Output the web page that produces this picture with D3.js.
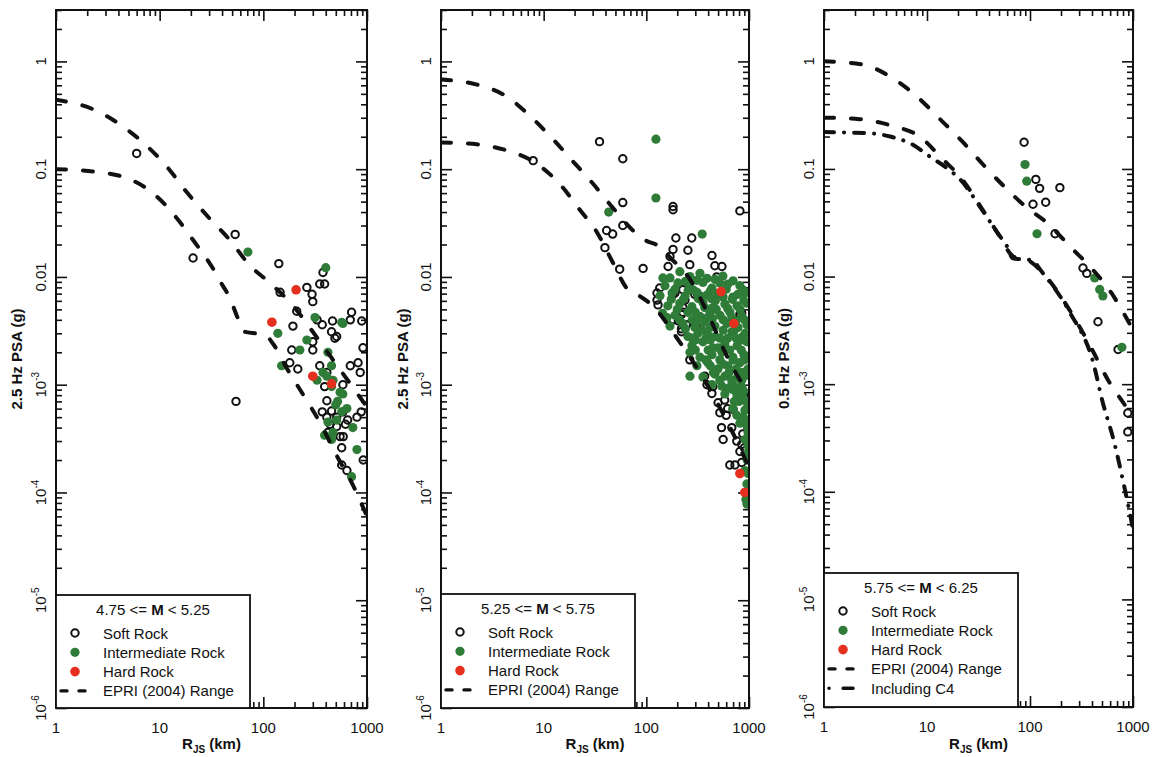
<!DOCTYPE html>
<html>
<head>
<meta charset="utf-8">
<script src="https://cdn.jsdelivr.net/npm/d3@7"></script>
<style>
body { margin: 0; background: #fff; }
text { font-family: "Liberation Sans", Arial, sans-serif; fill: #111; }
</style>
</head>
<body>
<script>
// ---- data (R_JS in km, PSA in g) ----
var xTicks = [1, 10, 100, 1000];
var xTickLabels = ["1", "10", "100", "1000"];
var yTicks = [1e-6, 1e-5, 1e-4, 1e-3, 0.01, 0.1, 1];
var yTickBase = ["10", "10", "10", "10", "0.01", "0.1", "1"];
var yTickExp = ["-6", "-5", "-4", "-3", "", "", ""];

var yTitles = ["2.5 Hz PSA (g)", "2.5 Hz PSA (g)", "0.5 Hz PSA (g)"];
var magLow = ["4.75", "5.25", "5.75"];
var magHigh = ["5.25", "5.75", "6.25"];

// panel 1 : 4.75 <= M < 5.25
var p1Soft = [[6.0,0.14],[53.5,0.0248],[21,0.015],[141,0.0133],[145,0.0072],[263,0.008],[295,0.0069],[300,0.0059],
  [350,0.0086],[390,0.0086],[376,0.011],[193,0.0035],[210,0.0048],[300,0.0025],[300,0.0021],[370,0.0036],[465,0.0039],
  [455,0.0031],[490,0.0027],[710,0.0047],[690,0.004],[890,0.0039],[188,0.0021],[180,0.0016],[215,0.0014],[690,0.0015],
  [820,0.0016],[860,0.0013],[330,0.004],[510,0.0028],[350,0.0015],[410,0.0013],[915,0.0022],[390,0.00096],[585,0.001],
  [410,0.00071],[370,0.00056],[410,0.0005],[455,0.00057],[510,0.0005],[585,0.00056],[650,0.00047],[800,0.0005],
  [880,0.00056],[440,0.00043],[510,0.00041],[620,0.00043],[420,0.00036],[550,0.00033],[590,0.00033],[570,0.00026],
  [570,0.00018],[640,0.00016],[920,0.0002],[54.5,0.0007]];
var p1Inter = [[71,0.017],[400,0.0122],[138,0.003],[315,0.0042],[585,0.0037],[263,0.0026],[225,0.0021],[420,0.002],
  [150,0.0015],[376,0.0013],[410,0.0012],[330,0.0011],[455,0.00096],[550,0.00085],[585,0.00082],[520,0.0007],
  [570,0.00056],[510,0.00047],[470,0.00036],[390,0.00034],[455,0.00031],[730,0.0004],[800,0.00025],[710,0.00014],
  [455,0.0015],[570,0.0038],[640,0.0006],[500,0.00065],[420,0.00045],[470,0.0011]];
var p1Hard = [[207,0.0076],[121,0.0038],[300,0.0012],[455,0.00102]];
var p1EpriUpper = [[1,0.44],[2.27,0.36],[4.14,0.26],[6.9,0.177],[11.7,0.106],[18.3,0.061],[29.4,0.036],[47.5,0.022],
  [74,0.0128],[116,0.0088],[200,0.0052],[300,0.0031],[450,0.0018],[700,0.001],[1000,0.00062]];
var p1EpriLower = [[1,0.1],[2.27,0.095],[4.6,0.084],[8.4,0.061],[14,0.037],[21,0.022],[31.8,0.0125],[40,0.0085],
  [47.5,0.0064],[57,0.0041],[66,0.0031],[104,0.0029],[124,0.0024],[170,0.0014],[250,0.00077],[350,0.00045],
  [510,0.00022],[710,0.000124],[1000,0.00006]];

// panel 2 : 5.25 <= M < 5.75
var p2Soft = [[35,0.18],[59,0.125],[7.9,0.12],[59,0.049],[182,0.045],[182,0.042],[815,0.041],[59,0.03],[47,0.025],
  [41,0.027],[39.5,0.0187],[55,0.0118],[93,0.012],[194,0.023],[277,0.023],[182,0.018],[254,0.0177],[170,0.0155],
  [436,0.0158],[465,0.0127],[545,0.0125],[265,0.013],[163,0.0125],[485,0.01],[127,0.0071],[127,0.0061],[182,0.0069],
  [227,0.0076],[296,0.0069],[227,0.0052],[296,0.0036],[220,0.0033],[220,0.0045],[182,0.004],[815,0.0045],[135,0.0079],
  [190,0.0071],[238,0.0061],[316,0.0069],[850,0.0046],[130,0.0055],[227,0.0047],[205,0.0039],[245,0.0036],[310,0.0036],
  [220,0.0031],[265,0.0017],[370,0.0012],[390,0.001],[445,0.00096],[435,0.00083],[500,0.00068],[580,0.00072],[620,0.0006],
  [700,0.00059],[815,0.00072],[540,0.0004],[680,0.0004],[760,0.0003],[850,0.00028],[815,0.00024],[650,0.00018],
  [730,0.00018],[850,0.00019],[900,0.00026],[870,0.00035],[940,0.00045],[600,0.00052],[520,0.00055],[560,0.00031]];
var p2Inter = [[124,0.19],[124,0.054],[43,0.04],[350,0.025],[145,0.0098],[159,0.0042],
  [170,0.0098],[212,0.0112],[266,0.0101],[333,0.0108],[466,0.0095],[557,0.0102],
  [152,0.0083],[203,0.0088],[266,0.0082],[356,0.0089],[436,0.0079],[622,0.0086],[815,0.0083],
  [136,0.0067],[178,0.0071],[238,0.0066],[311,0.0072],[390,0.0068],[498,0.007],[697,0.0065],[912,0.0071],
  [162,0.0054],[212,0.0057],[278,0.0053],[356,0.0058],[445,0.0052],[582,0.0056],[764,0.0054],[954,0.0057],
  [144,0.0046],[190,0.0044],[254,0.0047],[333,0.0043],[416,0.0046],[521,0.0044],[652,0.0047],[853,0.0043],
  [170,0.0035],[227,0.0037],[297,0.0034],[372,0.0038],[466,0.0035],[609,0.0037],[781,0.0034],[954,0.0036],
  [254,0.0028],[318,0.003],[398,0.0029],[521,0.0027],[682,0.0031],[872,0.0028],
  [278,0.0023],[356,0.0025],[445,0.0022],[582,0.0024],[764,0.0023],[954,0.0025],
  [266,0.002],[333,0.0018],[436,0.0019],[545,0.002],[697,0.0018],[892,0.0019],
  [311,0.0015],[398,0.0016],[498,0.0014],[622,0.0015],[815,0.0016],[977,0.0014],
  [266,0.0012],[356,0.00118],[466,0.00125],[582,0.0012],[764,0.00115],[933,0.00122],
  [436,0.001],[545,0.00097],[682,0.00102],[853,0.00095],
  [582,0.00082],[764,0.0008],[954,0.00079],[697,0.0006],[912,0.00058],[815,0.00044],[954,0.00042],
  [912,0.00031],[954,0.00023],[912,0.00016],[954,0.00012],[933,0.000086],[954,0.000078],
  [190,0.0077],[290,0.0075],[420,0.0074],[600,0.0077],[870,0.0076],[230,0.0062],[320,0.0063],[470,0.006],
  [690,0.0062],[890,0.006],[280,0.004],[380,0.0041],[560,0.004],[740,0.0039],[300,0.0026],[420,0.0026],
  [620,0.0027],[850,0.0026],[380,0.0017],[520,0.0017],[700,0.0017],[900,0.0017],[450,0.0013],[640,0.0013],
  [860,0.0013],[700,0.0009],[880,0.00088],[800,0.0007],[960,0.00068],[880,0.0005],[980,0.00036],[980,0.00027],
  [960,0.0002],[980,0.00015],[960,0.0001],
  [240,0.0091],[310,0.0093],[390,0.0097],[520,0.0088],[700,0.0092],[175,0.0062],[255,0.0075],[340,0.0066],
  [430,0.0063],[560,0.0065],[780,0.0069],[200,0.005],[300,0.0047],[370,0.0052],[480,0.005],[620,0.0051],
  [820,0.005],[210,0.004],[330,0.0039],[440,0.0041],[680,0.0042],[900,0.004],[240,0.0033],[350,0.0032],
  [420,0.0034],[560,0.0032],[720,0.0032],[280,0.0027],[380,0.0027],[470,0.0028],[750,0.0027],[920,0.003],
  [300,0.0021],[400,0.0021],[500,0.0022],[650,0.0021],[840,0.0021],[420,0.0015],[560,0.00155],[750,0.0014],
  [520,0.0011],[680,0.0011],[850,0.0011],[620,0.00092],[780,0.00094],[720,0.0007],[860,0.00075],[760,0.00052],
  [900,0.00048]];
var p2Hard = [[534,0.0073],[713,0.0037],[815,0.00015],[910,0.0001]];
var p2EpriUpper = [[1,0.68],[2.24,0.61],[4.4,0.47],[7.4,0.31],[12.3,0.19],[19,0.12],[30,0.074],[47,0.044],[74,0.027],
  [97,0.022],[136,0.019],[170,0.0152],[266,0.0095],[400,0.0045],[600,0.0019],[1000,0.0008]];
var p2EpriLower = [[1,0.177],[2.24,0.17],[4.7,0.146],[7.9,0.118],[14.5,0.072],[22.5,0.042],[33,0.026],[47,0.0137],
  [65,0.0078],[81,0.0069],[120,0.0052],[180,0.0031],[390,0.001],[760,0.0003],[1000,0.00017]];

// panel 3 : 5.75 <= M < 6.25
var p3Soft = [[87.6,0.177],[114,0.08],[124,0.066],[195,0.067],[107,0.047],[142,0.049],[175,0.025],[327,0.012],
  [356,0.0107],[457,0.0038],[716,0.0021],[890,0.00054],[890,0.00036]];
var p3Inter = [[89.5,0.11],[93,0.077],[117,0.025],[425,0.0097],[475,0.0076],[510,0.0066],[780,0.0022]];
var p3Hard = [];
var p3EpriUpper = [[1,1.0],[2.3,0.94],[4.4,0.72],[8,0.47],[13.4,0.29],[22,0.18],[35,0.11],[55,0.07],[90,0.045],
  [150,0.031],[245,0.019],[410,0.0115],[620,0.007],[750,0.0052],[1000,0.0032]];
var p3EpriLower = [[1,0.3],[2.2,0.29],[4.7,0.25],[8.5,0.2],[14,0.125],[22,0.08],[33,0.045],[49,0.025],[68,0.0155],
  [104,0.0135],[131,0.011],[245,0.0048],[400,0.0021],[570,0.0011],[900,0.00057],[1000,0.00048]];
var p3IncC4 = [[1,0.22],[2.7,0.215],[4.4,0.2],[7.1,0.17],[10.7,0.13],[16,0.1],[21,0.08],[33,0.044],[49,0.025],
  [60,0.019],[68,0.0148],[104,0.0142],[131,0.011],[245,0.0046],[410,0.0016],[510,0.00067],[650,0.0003],
  [836,0.000104],[1000,0.000045]];

// ---- layout ----
var green = "#2f7b38", red = "#e6301f";
var panels = [
  { left: 56, right: 367, top: 10, bottom: 708, titleX: 22, legTop: 595,
    soft: p1Soft, inter: p1Inter, hard: p1Hard, dashed: [p1EpriUpper, p1EpriLower], dashdot: [] },
  { left: 441, right: 749, top: 10, bottom: 708, titleX: 408, legTop: 594,
    soft: p2Soft, inter: p2Inter, hard: p2Hard, dashed: [p2EpriUpper, p2EpriLower], dashdot: [] },
  { left: 824, right: 1133, top: 10, bottom: 707, titleX: 789, legTop: 573,
    soft: p3Soft, inter: p3Inter, hard: p3Hard, dashed: [p3EpriUpper, p3EpriLower], dashdot: [p3IncC4] }
];

var yMinor = [];
for (var e = -6; e <= 0; e++) for (var m = 2; m <= 9; m++) { if (m * Math.pow(10, e) <= 3) yMinor.push(m * Math.pow(10, e)); }
var xMinor = [];
for (var e2 = 0; e2 <= 2; e2++) for (var m2 = 2; m2 <= 9; m2++) xMinor.push(m2 * Math.pow(10, e2));

var svg = d3.select("body").append("svg")
    .attr("width", 1153)
    .attr("height", 757);

panels.forEach(function (p, i) {
  var x = d3.scaleLog().domain([1, 1000]).range([p.left, p.right]);
  var y = d3.scaleLog().domain([1e-6, 3]).range([p.bottom, p.top]);
  var g = svg.append("g");

  g.append("clipPath").attr("id", "clip" + i)
    .append("rect")
    .attr("x", p.left).attr("y", p.top)
    .attr("width", p.right - p.left).attr("height", p.bottom - p.top);

  // inward ticks on all four sides
  function tickSet(axis, tr, vals, size) {
    g.append("g").attr("transform", tr)
      .call(axis.tickValues(vals).tickSize(size).tickFormat(""))
      .call(function (s) {
        s.select(".domain").remove();
        s.selectAll("line").attr("stroke", "#111").attr("stroke-width", 1.6);
      });
  }
  tickSet(d3.axisRight(y), "translate(" + p.left + ",0)", yMinor, 6);
  tickSet(d3.axisRight(y), "translate(" + p.left + ",0)", yTicks, 11);
  tickSet(d3.axisLeft(y), "translate(" + p.right + ",0)", yMinor, 6);
  tickSet(d3.axisLeft(y), "translate(" + p.right + ",0)", yTicks, 11);
  tickSet(d3.axisBottom(x), "translate(0," + p.top + ")", xMinor, 6);
  tickSet(d3.axisBottom(x), "translate(0," + p.top + ")", xTicks, 11);
  tickSet(d3.axisTop(x), "translate(0," + p.bottom + ")", xMinor, 6);
  tickSet(d3.axisTop(x), "translate(0," + p.bottom + ")", xTicks, 11);

  var marks = g.append("g").attr("clip-path", "url(#clip" + i + ")");

  marks.selectAll(".soft").data(p.soft).enter().append("circle")
    .attr("cx", function (d) { return x(d[0]); })
    .attr("cy", function (d) { return y(d[1]); })
    .attr("r", 3.7)
    .attr("fill", "none")
    .attr("stroke", "#111")
    .attr("stroke-width", 2);

  marks.selectAll(".inter").data(p.inter).enter().append("circle")
    .attr("cx", function (d) { return x(d[0]); })
    .attr("cy", function (d) { return y(d[1]); })
    .attr("r", 4.6)
    .attr("fill", green);

  marks.selectAll(".hard").data(p.hard).enter().append("circle")
    .attr("cx", function (d) { return x(d[0]); })
    .attr("cy", function (d) { return y(d[1]); })
    .attr("r", 4.8)
    .attr("fill", red);

  var line = d3.line()
    .x(function (d) { return x(d[0]); })
    .y(function (d) { return y(d[1]); })
    .curve(d3.curveMonotoneX);

  p.dashed.forEach(function (s) {
    marks.append("path").datum(s).attr("d", line)
      .attr("fill", "none").attr("stroke", "#111")
      .attr("stroke-width", 4).attr("stroke-linecap", "round")
      .attr("stroke-dasharray", "10,17");
  });
  p.dashdot.forEach(function (s) {
    marks.append("path").datum(s).attr("d", line)
      .attr("fill", "none").attr("stroke", "#111")
      .attr("stroke-width", 4).attr("stroke-linecap", "round")
      .attr("stroke-dasharray", "10,10,0.1,10");
  });

  // frame
  g.append("rect")
    .attr("x", p.left).attr("y", p.top)
    .attr("width", p.right - p.left).attr("height", p.bottom - p.top)
    .attr("fill", "none").attr("stroke", "#111").attr("stroke-width", 2);

  // y tick labels (rotated)
  yTicks.forEach(function (v, k) {
    var t = g.append("text")
      .attr("transform", "translate(" + (p.left - 10) + "," + y(v) + ") rotate(-90)")
      .attr("text-anchor", "middle")
      .style("font-size", "15px")
      .text(yTickBase[k]);
    if (yTickExp[k]) {
      t.append("tspan").attr("dy", -7).style("font-size", "10px").text(yTickExp[k]);
    }
  });

  // x tick labels
  xTicks.forEach(function (v, k) {
    g.append("text")
      .attr("x", x(v)).attr("y", p.bottom + 25)
      .attr("text-anchor", "middle")
      .style("font-size", "15px")
      .text(xTickLabels[k]);
  });

  // axis titles
  g.append("text")
    .attr("transform", "translate(" + p.titleX + "," + ((p.top + p.bottom) / 2) + ") rotate(-90)")
    .attr("text-anchor", "middle")
    .style("font-size", "15px").style("font-weight", "bold")
    .text(yTitles[i]);

  var xt = g.append("text")
    .attr("x", (p.left + p.right) / 2).attr("y", 749)
    .attr("text-anchor", "middle")
    .style("font-size", "15px").style("font-weight", "bold");
  xt.append("tspan").text("R");
  xt.append("tspan").attr("dy", 4).style("font-size", "10px").text("JS");
  xt.append("tspan").attr("dy", -4).text(" (km)");

  // legend
  var lx = p.left, lw = 194;
  g.append("rect")
    .attr("x", lx).attr("y", p.legTop)
    .attr("width", lw).attr("height", p.bottom - p.legTop)
    .attr("fill", "#fff").attr("stroke", "#111").attr("stroke-width", 1.8);

  var lt = g.append("text")
    .attr("x", lx + 97).attr("y", p.legTop + 20)
    .attr("text-anchor", "middle")
    .style("font-size", "15px");
  lt.append("tspan").text(magLow[i] + " <= ");
  lt.append("tspan").style("font-weight", "bold").text("M");
  lt.append("tspan").text(" < " + magHigh[i]);

  var items = [
    { kind: "soft", label: "Soft Rock" },
    { kind: "inter", label: "Intermediate Rock" },
    { kind: "hard", label: "Hard Rock" },
    { kind: "dash", label: "EPRI (2004) Range" }
  ];
  if (p.dashdot.length) items.push({ kind: "dashdot", label: "Including C4" });

  items.forEach(function (it, k) {
    var cy = p.legTop + 38 + k * 19.3;
    if (it.kind === "soft") {
      g.append("circle").attr("cx", lx + 19).attr("cy", cy).attr("r", 3.7)
        .attr("fill", "none").attr("stroke", "#111").attr("stroke-width", 2);
    } else if (it.kind === "inter") {
      g.append("circle").attr("cx", lx + 19).attr("cy", cy).attr("r", 4.6).attr("fill", green);
    } else if (it.kind === "hard") {
      g.append("circle").attr("cx", lx + 19).attr("cy", cy).attr("r", 4.8).attr("fill", red);
    } else if (it.kind === "dash") {
      g.append("line").attr("x1", lx + 5).attr("x2", lx + 34).attr("y1", cy).attr("y2", cy)
        .attr("stroke", "#111").attr("stroke-width", 3.4).attr("stroke-linecap", "round")
        .attr("stroke-dasharray", "6,12");
    } else {
      g.append("line").attr("x1", lx + 5).attr("x2", lx + 34).attr("y1", cy).attr("y2", cy)
        .attr("stroke", "#111").attr("stroke-width", 3.4).attr("stroke-linecap", "round")
        .attr("stroke-dasharray", "0.1,14,10,20");
    }
    g.append("text")
      .attr("x", lx + 47).attr("y", cy + 5.5)
      .style("font-size", "15px")
      .text(it.label);
  });
});
</script>
</body>
</html>
